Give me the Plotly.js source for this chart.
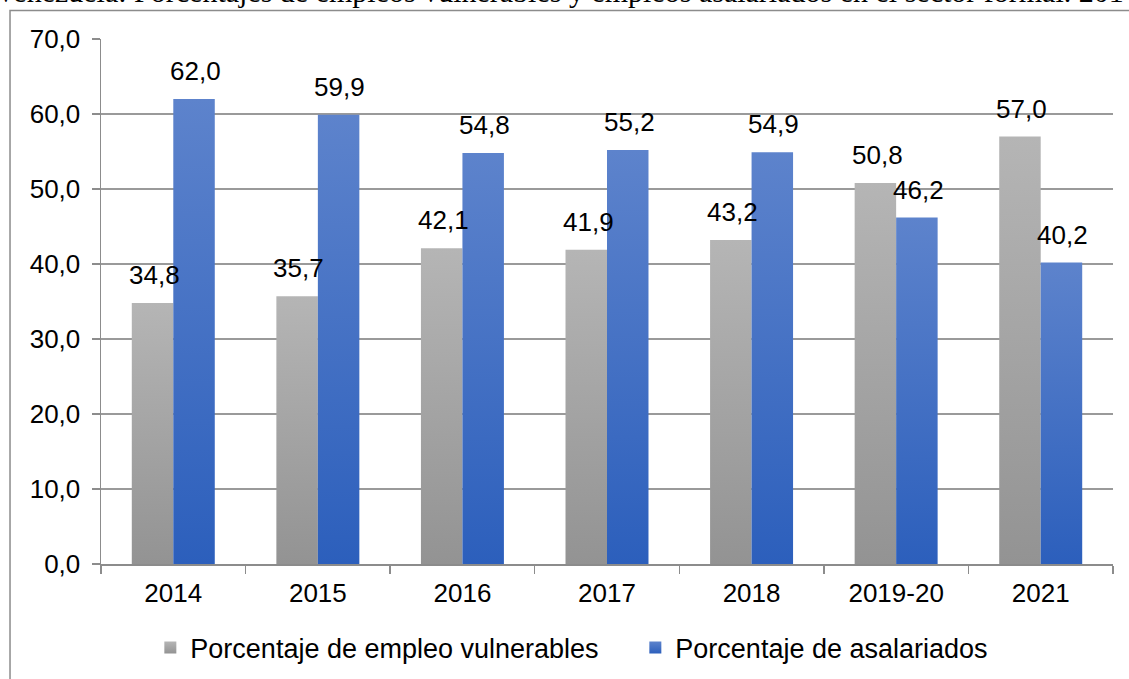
<!DOCTYPE html>
<html>
<head>
<meta charset="utf-8">
<script src="https://cdn.plot.ly/plotly-3.0.1.min.js"></script>
<style>
  html, body { margin: 0; padding: 0; background: #fff; overflow: hidden; }
  #chart { width: 1129px; height: 679px; }
</style>
</head>
<body>
<div id="chart"></div>
<script>
const titleText = "Venezuela: Porcentajes de empleos vulnerables y empleos asalariados en el sector formal. 2014-2021";
const categories = ["2014", "2015", "2016", "2017", "2018", "2019-20", "2021"];
const vulnerables = [34.8, 35.7, 42.1, 41.9, 43.2, 50.8, 57.0];
const asalariados = [62.0, 59.9, 54.8, 55.2, 54.9, 46.2, 40.2];
const seriesNames = ["Porcentaje de empleo vulnerables", "Porcentaje de asalariados"];
const yTicks = [0, 10, 20, 30, 40, 50, 60, 70];

const fmt = v => v.toFixed(1).replace('.', ',');
const FONT = "Liberation Sans, Arial, sans-serif";

const traces = [
  { type: 'bar', name: seriesNames[0], x: categories, y: vulnerables,
    marker: { color: '#a3a3a3' }, hoverinfo: 'none' },
  { type: 'bar', name: seriesNames[1], x: categories, y: asalariados,
    marker: { color: '#4672c8' }, hoverinfo: 'none' }
];

const annotations = [];
categories.forEach((c, i) => {
  annotations.push({ x: i, y: vulnerables[i], xref: 'x', yref: 'y', text: fmt(vulnerables[i]),
    showarrow: false, xshift: -19, yshift: 28, yanchor: 'middle',
    font: { family: FONT, size: 26, color: '#000' } });
  annotations.push({ x: i, y: asalariados[i], xref: 'x', yref: 'y', text: fmt(asalariados[i]),
    showarrow: false, xshift: 22, yshift: 28, yanchor: 'middle',
    font: { family: FONT, size: 26, color: '#000' } });
});
annotations.push({ text: titleText, xref: 'paper', yref: 'paper', x: -0.107, y: 1.09,
  xanchor: 'left', yanchor: 'middle', showarrow: false,
  font: { family: 'Liberation Serif, Times New Roman, serif', size: 30, color: '#000' } });

const layout = {
  width: 1129, height: 679,
  margin: { l: 101, r: 16, t: 39, b: 115, pad: 0, autoexpand: false },
  paper_bgcolor: '#fff', plot_bgcolor: '#fff',
  separators: ',.',
  barmode: 'group', bargap: 0.426, bargroupgap: 0,
  showlegend: true,
  legend: { orientation: 'h', x: 0.528, xanchor: 'center', y: -0.16, yanchor: 'middle',
    entrywidth: 440, entrywidthmode: 'pixels', tracegroupgap: 0,
    font: { family: FONT, size: 27, color: '#000' }, itemclick: false },
  xaxis: { type: 'category', range: [-0.5, categories.length - 0.5], autorange: false,
    showline: true, linecolor: '#8c8c8c', linewidth: 1.5,
    ticks: 'outside', tickson: 'boundaries', ticklen: 8, tickcolor: '#8c8c8c', tickwidth: 1.5,
    ticklabelstandoff: 5,
    showgrid: false, tickangle: 0, tickfont: { family: FONT, size: 26, color: '#000' }, fixedrange: true },
  yaxis: { range: [0, 70], autorange: false, tickvals: yTicks, tickformat: '.1f', showline: true,
    linecolor: '#8c8c8c', linewidth: 1.5, ticks: 'outside', ticklen: 8, tickcolor: '#8c8c8c',
    tickwidth: 1.5, showgrid: true, gridcolor: '#9a9a9a', gridwidth: 1.5, zeroline: false,
    ticklabelstandoff: 6,
    tickfont: { family: FONT, size: 26, color: '#000' }, fixedrange: true },
  shapes: [
    { type: 'rect', xref: 'paper', yref: 'paper', x0: -0.0899, x1: 1.2, y0: -0.4, y1: 1.0543,
      line: { color: '#8c8c8c', width: 1.5 }, fillcolor: 'rgba(0,0,0,0)', layer: 'below' }
  ],
  annotations: annotations
};

Plotly.newPlot('chart', traces, layout, { displayModeBar: false, staticPlot: true }).then(gd => {
  const svg = gd.querySelector('svg.main-svg');
  const ns = 'http://www.w3.org/2000/svg';
  let defs = svg.querySelector('defs');
  if (!defs) { defs = document.createElementNS(ns, 'defs'); svg.insertBefore(defs, svg.firstChild); }
  const mk = (id, top, bot) => {
    const g = document.createElementNS(ns, 'linearGradient');
    g.setAttribute('id', id); g.setAttribute('x1', '0'); g.setAttribute('y1', '0');
    g.setAttribute('x2', '0'); g.setAttribute('y2', '1');
    [[0, top], [1, bot]].forEach(([o, c]) => {
      const s = document.createElementNS(ns, 'stop');
      s.setAttribute('offset', o); s.setAttribute('stop-color', c); g.appendChild(s);
    });
    defs.appendChild(g);
  };
  mk('gGray', '#b5b5b5', '#939393');
  mk('gBlue', '#5d83cc', '#2c5fbc');
  const ids = ['gGray', 'gBlue'];
  gd.querySelectorAll('.barlayer .trace.bars').forEach((t, i) => {
    t.querySelectorAll('path').forEach(p => { p.style.fill = 'url(#' + ids[i] + ')'; });
  });
  gd.querySelectorAll('.legend .traces').forEach((t, i) => {
    t.querySelectorAll('.legendpoints path').forEach(p => { p.style.fill = 'url(#' + ids[i] + ')'; p.style.stroke = 'none'; });
  });
});
</script>
</body>
</html>
